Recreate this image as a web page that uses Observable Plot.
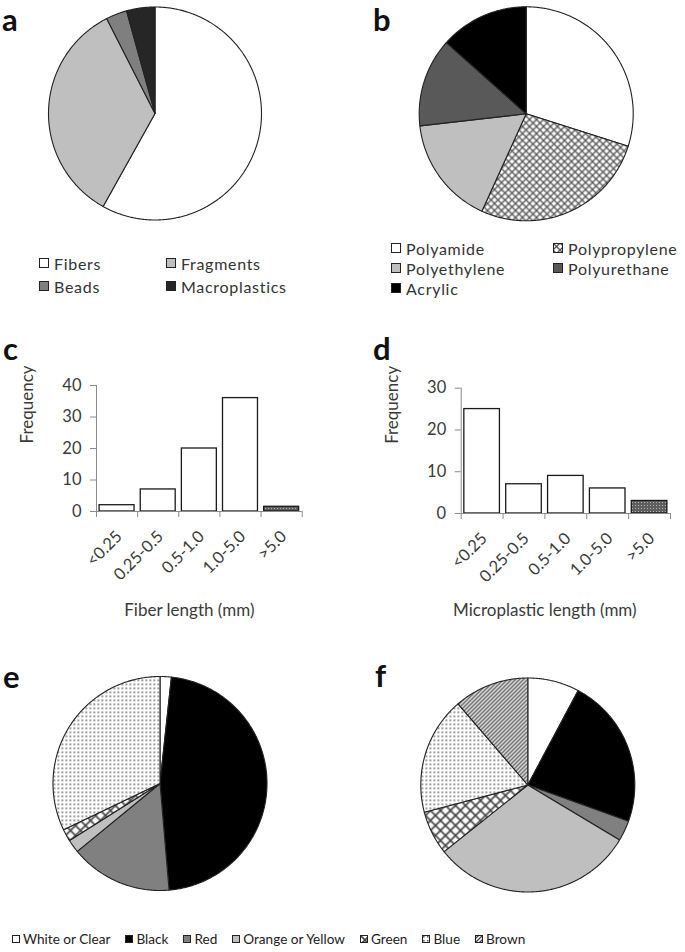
<!DOCTYPE html>
<html><head><meta charset="utf-8">
<script src="https://cdn.jsdelivr.net/npm/d3@7"></script>
<script src="https://cdn.jsdelivr.net/npm/@observablehq/plot@0.6"></script>
<style>
body{margin:0;background:#fff;}
#fig{position:relative;width:685px;height:952px;font-family:Lato,"Open Sans",sans-serif;color:#333;overflow:hidden;background:#fff}
.panel{position:absolute}
#letters{position:absolute;left:0;top:0;pointer-events:none}
.item{position:absolute;display:flex;align-items:center;white-space:nowrap;height:20px;font-size:16px;letter-spacing:0.7px;color:#333}
.item svg{margin-right:5px;flex:none}
#bottomLegend{position:absolute;left:12px;top:929px;display:flex;gap:15px;font-size:13.6px;color:#222;white-space:nowrap;align-items:center;height:20px}
#bottomLegend span{display:flex;align-items:center}
#bottomLegend svg{margin-right:3px}
</style></head>
<body>
<svg width="0" height="0" style="position:absolute">
 <defs>
  <pattern id="pp" patternUnits="userSpaceOnUse" width="7" height="7">
   <rect width="7" height="7" fill="#fff"/>
   <path d="M0,0L7,7M7,0L0,7" stroke="#555" stroke-width="1.3"/>
  </pattern>
  <pattern id="green" patternUnits="userSpaceOnUse" width="10" height="10">
   <rect width="10" height="10" fill="#fff"/>
   <path d="M0,0L10,10M10,0L0,10" stroke="#444" stroke-width="1.6"/>
  </pattern>
  <pattern id="blue" patternUnits="userSpaceOnUse" width="4" height="4">
   <rect width="4" height="4" fill="#fff"/>
   <rect x="1" y="1" width="1.6" height="1.6" fill="#666"/>
  </pattern>
  <pattern id="brown" patternUnits="userSpaceOnUse" width="4" height="4">
   <rect width="4" height="4" fill="#fff"/>
   <path d="M0,4L4,0M-1,1L1,-1M3,5L5,3" stroke="#444" stroke-width="1.3"/>
  </pattern>
  <pattern id="dense" patternUnits="userSpaceOnUse" width="3" height="3">
   <rect width="3" height="3" fill="#5e5e5e"/>
   <rect x="1" y="1" width="1" height="1" fill="#b5b5b5"/>
  </pattern>
 </defs>
</svg>
<div id="fig"></div>
<script>
// ---------- data ----------
const aNames = ["Fibers", "Fragments", "Beads", "Macroplastics"];
const aValues = [58.1, 34.4, 3.2, 4.3];

const bNames = ["Polyamide", "Polypropylene", "Polyethylene", "Polyurethane", "Acrylic"];
const bValues = [29.9, 26.9, 16.4, 13.4, 13.4];

const lengthCats = ["<0.25", "0.25-0.5", "0.5-1.0", "1.0-5.0", ">5.0"];
const fiberFreq = [2, 7, 20, 36, 1.5];
const microFreq = [25, 7, 9, 6, 3];
const fiberTicks = [0, 10, 20, 30, 40];
const microTicks = [0, 10, 20, 30];

const colorNames = ["White or Clear", "Black", "Red", "Orange or Yellow", "Green", "Blue", "Brown"];
const eValues = [1.7, 46.9, 15.4, 2.0, 1.8, 32.1, 0];
const fValues = [7.8, 22.7, 3.1, 30.7, 6.6, 17.8, 11.3];

const panelLetters = ["a", "b", "c", "d", "e", "f"];

// ---------- styles ----------
const aFills = ["#ffffff", "#bfbfbf", "#7f7f7f", "#262626"];
const bFills = ["#ffffff", "url(#pp)", "#bfbfbf", "#595959", "#000000"];
const colorFills = ["#ffffff", "#000000", "#808080", "#bfbfbf", "url(#green)", "url(#blue)", "url(#brown)"];
const barFills = ["#ffffff", "#ffffff", "#ffffff", "#ffffff", "url(#dense)"];

const fig = document.getElementById("fig");

function place(node, left, top) {
  const d = document.createElement("div");
  d.className = "panel";
  d.style.left = left + "px";
  d.style.top = top + "px";
  d.appendChild(node);
  fig.appendChild(d);
}

function pie(values, fills, {width, height, cx, cy, r}) {
  const arcs = d3.pie().sort(null).value(d => d)(values);
  const marks = [];
  arcs.forEach((a, i) => {
    if (!(values[i] > 0)) return;
    const n = Math.max(2, Math.ceil((a.endAngle - a.startAngle) / (Math.PI / 360)));
    const pts = [{x: 0, y: 0}];
    for (let k = 0; k <= n; k++) {
      const t = a.startAngle + (a.endAngle - a.startAngle) * k / n;
      pts.push({x: Math.sin(t), y: Math.cos(t)});
    }
    pts.push({x: 0, y: 0});
    marks.push(Plot.line(pts, {x: "x", y: "y", fill: fills[i], stroke: "#222", strokeWidth: 1.1, strokeLinejoin: "round"}));
  });
  return Plot.plot({
    width, height, margin: 0,
    x: {domain: [-1, 1], range: [cx - r, cx + r], axis: null},
    y: {domain: [-1, 1], range: [cy + r, cy - r], axis: null},
    marks
  });
}

function bars(cats, vals, ticks, title, {width, height, ml, mr, mt, mb, ylabDx, ylabDy, titleDx, titleDy}) {
  const data = cats.map((c, i) => ({c, i, v: vals[i], fill: barFills[i]}));
  const n = cats.length;
  return Plot.plot({
    width, height, marginLeft: ml, marginRight: mr, marginTop: mt, marginBottom: mb,
    style: {fontFamily: "Lato, 'Open Sans', sans-serif", fontSize: "16px", color: "#3a3a3a", background: "white"},
    x: {domain: [0, n], axis: null},
    y: {domain: [0, ticks[ticks.length - 1]], label: null},
    color: {type: "identity"},
    marks: [
      Plot.rect(data, {x1: d => d.i + 0.075, x2: d => d.i + 0.925, y1: d => 0, y2: "v", fill: "fill", stroke: "#1a1a1a", strokeWidth: 1.3}),
      Plot.ruleY([0], {stroke: "#8a8a8a", strokeWidth: 1}),
      Plot.ruleX([0], {stroke: "#8a8a8a", strokeWidth: 1}),
      Plot.axisY(ticks, {tickSize: 6, tickPadding: 9, label: null, stroke: "#8a8a8a", fill: "#3a3a3a", fontSize: 16.5}),
      Plot.axisX(d3.range(n + 1), {tickSize: 6, tickFormat: () => "", label: null, stroke: "#8a8a8a"}),
      Plot.text(data, {x: d => d.i + 0.5, y: d => 0, text: "c", rotate: -45, textAnchor: "end", lineAnchor: "bottom", dx: 6, dy: 26, fill: "#3a3a3a", fontSize: 16.5}),
      Plot.text(["Frequency"], {text: d => d, frameAnchor: "left", rotate: -90, dx: ylabDx, dy: ylabDy, fill: "#3a3a3a", fontSize: 17}),
      Plot.text([title], {text: d => d, frameAnchor: "bottom", dx: titleDx, dy: titleDy, fill: "#3a3a3a", fontSize: 17})
    ]
  });
}

function swatch(fill, size) {
  return `<svg width="${size + 1}" height="${size + 1}"><rect x="0.5" y="0.5" width="${size}" height="${size}" fill="${fill}" stroke="#222" stroke-width="1"/></svg>`;
}

function legend2(names, fills, left0, left1, top0, rowStep) {
  names.forEach((name, i) => {
    const d = document.createElement("div");
    d.className = "item";
    d.style.left = (i % 2 === 0 ? left0 : left1) + "px";
    d.style.top = (top0 + Math.floor(i / 2) * rowStep - 10) + "px";
    d.innerHTML = swatch(fills[i], 9) + `<span>${name}</span>`;
    fig.appendChild(d);
  });
}

// panel a
place(pie(aValues, aFills, {width: 340, height: 235, cx: 154.5, cy: 113, r: 106.5}), 0, 0);
legend2(aNames, aFills, 39, 166, 263, 23);
// panel b
place(pie(bValues, bFills, {width: 345, height: 235, cx: 185.7, cy: 113.3, r: 107}), 340, 0);
legend2(bNames, bFills, 391, 553, 248, 20);
// panel c
place(bars(lengthCats, fiberFreq, fiberTicks, "Fiber length (mm)",
  {width: 340, height: 290, ml: 96, mr: 38.3, mt: 55, mb: 109, ylabDx: -69, ylabDy: -5, titleDx: -10, titleDy: 104}), 0, 330);
// panel d
place(bars(lengthCats, microFreq, microTicks, "Microplastic length (mm)",
  {width: 345, height: 290, ml: 120.7, mr: 15, mt: 57.7, mb: 107, ylabDx: -69, ylabDy: -7, titleDx: -21, titleDy: 102}), 340, 330);
// panel e, f
place(pie(eValues, colorFills, {width: 340, height: 280, cx: 159.5, cy: 153, r: 107}), 0, 630);
place(pie(fValues, colorFills, {width: 345, height: 280, cx: 187.3, cy: 154.5, r: 107}), 340, 630);

// bottom legend
const bl = document.createElement("div");
bl.id = "bottomLegend";
bl.innerHTML = colorNames.map((n, i) => `<span>${swatch(colorFills[i], 7)}${n}</span>`).join("");
fig.appendChild(bl);

// panel letters (SVG overlay)
const letterPos = [[2, 31], [373, 31], [3, 360], [373, 360], [3, 688], [375, 687]];
const ns = "http://www.w3.org/2000/svg";
const ov = document.createElementNS(ns, "svg");
ov.setAttribute("id", "letters");
ov.setAttribute("width", 685);
ov.setAttribute("height", 952);
panelLetters.forEach((t, i) => {
  const tx = document.createElementNS(ns, "text");
  tx.setAttribute("x", letterPos[i][0]);
  tx.setAttribute("y", letterPos[i][1]);
  tx.setAttribute("font-family", "Lato, 'Open Sans', sans-serif");
  tx.setAttribute("font-weight", "bold");
  tx.setAttribute("font-size", 31);
  tx.setAttribute("fill", "#111");
  tx.textContent = t;
  ov.appendChild(tx);
});
fig.appendChild(ov);
</script>
</body></html>
